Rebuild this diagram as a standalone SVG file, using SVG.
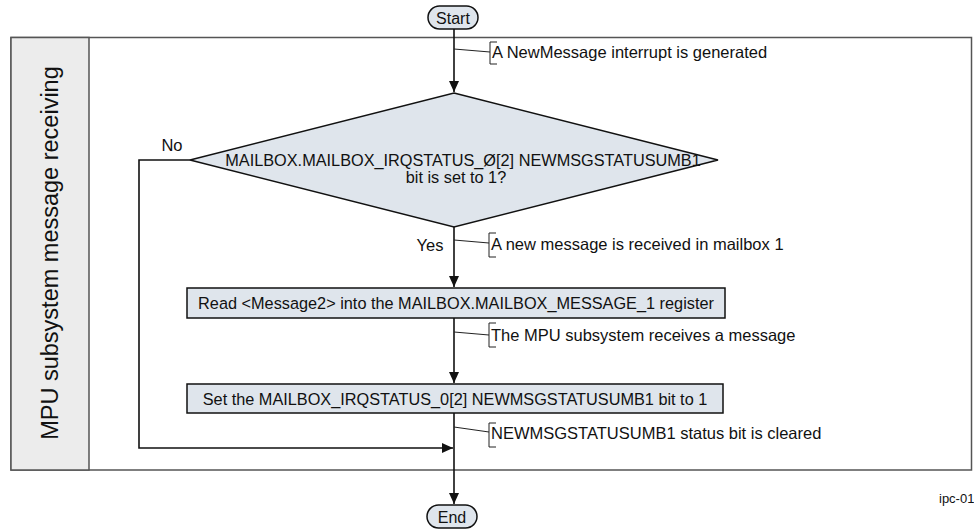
<svg xmlns="http://www.w3.org/2000/svg" width="974" height="529" viewBox="0 0 974 529">
<style>
text{font-family:"Liberation Sans",Arial,sans-serif;fill:#111}
.node{fill:#dfe5ec;stroke:#111;stroke-width:1.5}
.conn{fill:none;stroke:#111;stroke-width:1.6}
.lead{fill:none;stroke:#222;stroke-width:1}
.lbl{font-size:16.5px}
.note{font-size:16.5px}
.nt{font-size:16.3px}
</style>
<defs>
<marker id="arr" markerWidth="12" markerHeight="12" refX="11" refY="6" orient="auto" markerUnits="userSpaceOnUse">
<path d="M0,1 L11,6 L0,11 Z" fill="#111"/>
</marker>
</defs>
<g id="lane">
<rect x="11" y="37.5" width="960.5" height="432.5" fill="#fff" stroke="#555" stroke-width="1.5"/>
<rect x="11" y="37.5" width="78" height="432.5" fill="#ececec" stroke="#555" stroke-width="1.5"/>
<text x="0" y="0" font-size="23.5" text-anchor="middle" transform="translate(58,253) rotate(-90)">MPU subsystem message receiving</text>
</g>
<g id="connectors">
<path class="conn" d="M454,29 V92" marker-end="url(#arr)"/>
<path class="conn" d="M454,227 V287" marker-end="url(#arr)"/>
<path class="conn" d="M454,318 V383" marker-end="url(#arr)"/>
<path class="conn" d="M454,413 V504" marker-end="url(#arr)"/>
<path class="conn" d="M190,160 H139 V448 H453" marker-end="url(#arr)"/>
<text class="lbl" x="172" y="151" text-anchor="middle">No</text>
<text class="lbl" x="430" y="251" text-anchor="middle">Yes</text>
</g>
<g id="start">
<rect class="node" x="428" y="6" width="50" height="23" rx="11.5"/>
<text x="453" y="24" font-size="16" text-anchor="middle">Start</text>
</g>
<g id="decision">
<polygon class="node" points="454,93 718,160 454,227 190,160"/>
<text class="nt" x="463" y="166" text-anchor="middle">MAILBOX.MAILBOX_IRQSTATUS_Ø[2] NEWMSGSTATUSUMB1</text>
<text class="nt" x="456" y="183" text-anchor="middle">bit is set to 1?</text>
</g>
<g id="read">
<rect class="node" x="187" y="288" width="538" height="30"/>
<text class="nt" x="456" y="309" text-anchor="middle">Read &lt;Message2&gt; into the MAILBOX.MAILBOX_MESSAGE_1 register</text>
</g>
<g id="set">
<rect class="node" x="187" y="384" width="536" height="29"/>
<text class="nt" x="455" y="405" text-anchor="middle">Set the MAILBOX_IRQSTATUS_0[2] NEWMSGSTATUSUMB1 bit to 1</text>
</g>
<g id="end">
<rect class="node" x="427" y="505" width="50" height="23" rx="11.5"/>
<text x="452" y="523" font-size="16" text-anchor="middle">End</text>
</g>
<g id="note1">
<path class="lead" d="M454,49 L490,52"/>
<path class="lead" d="M497,42 H490 V64 H497"/>
<text class="note" x="492" y="58">A NewMessage interrupt is generated</text>
</g>
<g id="note2">
<path class="lead" d="M454,240 L489,243"/>
<path class="lead" d="M496,233 H489 V257 H496"/>
<text class="note" x="491" y="250">A new message is received in mailbox 1</text>
</g>
<g id="note3">
<path class="lead" d="M454,332 L489,335"/>
<path class="lead" d="M496,323 H489 V347 H496"/>
<text class="note" x="491" y="341">The MPU subsystem receives a message</text>
</g>
<g id="note4">
<path class="lead" d="M454,427 L489,432"/>
<path class="lead" d="M496,423 H489 V447 H496"/>
<text class="note" x="491" y="439">NEWMSGSTATUSUMB1 status bit is cleared</text>
</g>
<text x="939" y="503" font-size="13">ipc-01</text>
</svg>
